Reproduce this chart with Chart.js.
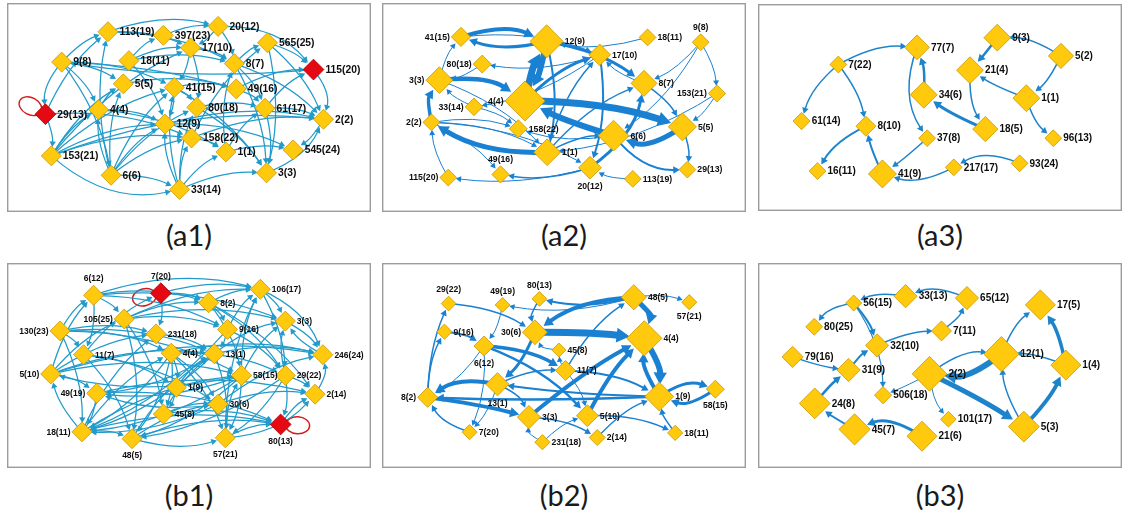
<!DOCTYPE html>
<html><head><meta charset="utf-8">
<script src="https://cdn.jsdelivr.net/npm/chart.js@4.4.1/dist/chart.umd.min.js"></script>
<style>
html,body{margin:0;padding:0;background:#fff}
body{width:1125px;height:510px;position:relative;overflow:hidden}
canvas{position:absolute}
.cap{position:absolute;width:160px;height:34px;line-height:34px;text-align:center;font-family:Lato,"Open Sans",sans-serif;font-size:29px;color:#1a1a1a}
</style></head><body>
<canvas id="a1"></canvas><canvas id="a2"></canvas><canvas id="a3"></canvas>
<canvas id="b1"></canvas><canvas id="b2"></canvas><canvas id="b3"></canvas>
<div class="cap" style="left:109px;top:218px">(a1)</div>
<div class="cap" style="left:484px;top:218px">(a2)</div>
<div class="cap" style="left:860px;top:218px">(a3)</div>
<div class="cap" style="left:109px;top:478px">(b1)</div>
<div class="cap" style="left:484px;top:478px">(b2)</div>
<div class="cap" style="left:860px;top:478px">(b3)</div>
<script>
// ---------------- DATA ----------------
// node names, layout coordinates (layout units) and node weights
const namesA1 = ['113(19)','397(23)','20(12)','565(25)','115(20)','9(8)','18(11)','17(10)','8(7)','5(5)','41(15)','49(16)','29(13)','4(4)','80(18)','61(17)','2(2)','12(9)','158(22)','1(1)','545(24)','153(21)','6(6)','3(3)','33(14)'];
const layoutXA1 = [308,485,660,818,965,160,375,572,712,357,520,718,108,278,592,810,997,490,575,685,900,127,318,815,537];
const layoutYA1 = [68,80,50,105,195,170,165,122,175,243,255,260,345,330,322,325,362,378,425,472,465,485,550,542,598];
const weightA1 = [5,5,5,5,5.2,5,5,5,5,5,5,5,5.2,5,5,5,5,5,5,5,5,5,5,5,5];
const linksA1 = [
['113(19)','20(12)'],['397(23)','20(12)'],['20(12)','115(20)'],['565(25)','115(20)'],
['9(8)','113(19)'],['9(8)','29(13)'],['29(13)','29(13)'],['29(13)','153(21)'],['29(13)','113(19)'],
['153(21)','33(14)'],['6(6)','33(14)'],['33(14)','3(3)'],['3(3)','2(2)'],['115(20)','2(2)'],
['2(2)','545(24)'],['1(1)','545(24)'],
['153(21)','41(15)'],['153(21)','17(10)'],['153(21)','12(9)'],['153(21)','158(22)'],['153(21)','5(5)'],['153(21)','4(4)'],
['6(6)','41(15)'],['6(6)','158(22)'],['6(6)','5(5)'],['6(6)','12(9)'],['6(6)','80(18)'],['6(6)','113(19)'],['6(6)','4(4)'],
['33(14)','158(22)'],['33(14)','12(9)'],['33(14)','80(18)'],['33(14)','1(1)'],['33(14)','41(15)'],
['9(8)','5(5)'],['9(8)','41(15)'],['9(8)','49(16)'],['9(8)','6(6)'],['9(8)','4(4)'],
['18(11)','17(10)'],['18(11)','397(23)'],['18(11)','8(7)'],['18(11)','12(9)'],
['113(19)','17(10)'],['113(19)','8(7)'],['17(10)','8(7)'],['17(10)','80(18)'],['17(10)','41(15)'],
['8(7)','565(25)'],['8(7)','61(17)'],['8(7)','2(2)'],['8(7)','3(3)'],
['41(15)','49(16)'],['41(15)','12(9)'],['41(15)','80(18)'],['41(15)','3(3)'],
['49(16)','61(17)'],['49(16)','115(20)'],['61(17)','115(20)'],['61(17)','3(3)'],['61(17)','2(2)'],
['80(18)','61(17)'],['80(18)','3(3)'],['12(9)','2(2)'],['12(9)','545(24)'],
['158(22)','2(2)'],['158(22)','565(25)'],['158(22)','1(1)'],['1(1)','61(17)'],['1(1)','8(7)'],
['4(4)','12(9)'],['4(4)','1(1)'],['4(4)','5(5)'],['5(5)','49(16)'],
['565(25)','2(2)'],['565(25)','3(3)'],['20(12)','8(7)'],['20(12)','17(10)'],['29(13)','158(22)'],['153(21)','2(2)'],['115(20)','9(8)']
];

const namesA2 = ['41(15)','12(9)','18(11)','9(8)','17(10)','80(18)','3(3)','8(7)','4(4)','153(21)','33(14)','2(2)','158(22)','5(5)','6(6)','1(1)','49(16)','20(12)','29(13)','115(20)','113(19)'];
const layoutXA2 = [218,508,850,1030,688,290,145,838,435,1085,262,118,412,968,735,510,352,655,985,175,800];
const layoutYA2 = [58,75,60,78,125,160,220,232,298,270,320,378,402,395,428,490,573,548,555,585,590];
const weightA2 = [4.8,8.3,4.2,4.2,5.4,4.5,6.7,6.5,10,4.3,4.4,4.2,4.5,7,7.7,6.7,4.3,5.7,4.2,4.2,4.2];
const linksA2 = [
['41(15)','12(9)',4],['12(9)','41(15)',3],['4(4)','12(9)',7],['12(9)','4(4)',6],
['3(3)','4(4)',4.5],['4(4)','5(5)',7],['6(6)','4(4)',6],['5(5)','6(6)',5],
['1(1)','2(2)',5],['2(2)','3(3)',3.5],['12(9)','8(7)',3],['4(4)','17(10)',3],['20(12)','8(7)',3],['17(10)','20(12)',2],
['12(9)','1(1)',2],['6(6)','29(13)',2],['5(5)','29(13)',1.5],['1(1)','8(7)',1.5],['1(1)','17(10)',1.5],
['18(11)','12(9)',1],['17(10)','80(18)',1],['9(8)','8(7)',1],['9(8)','153(21)',1],['153(21)','5(5)',1],['9(8)','6(6)',1],
['8(7)','17(10)',1],['8(7)','5(5)',1.5],['2(2)','158(22)',1],['2(2)','1(1)',1],['2(2)','20(12)',1],['33(14)','158(22)',1],
['33(14)','3(3)',1],['17(10)','33(14)',1],['115(20)','2(2)',1],['20(12)','115(20)',1],['20(12)','49(16)',1.5],['2(2)','49(16)',1],
['113(19)','20(12)',1],['6(6)','158(22)',1],['3(3)','1(1)',1],['3(3)','41(15)',1],['80(18)','3(3)',1],['41(15)','17(10)',1],
['153(21)','1(1)',1],['1(1)','6(6)',1.5]
];

const namesA3 = ['77(7)','9(3)','5(2)','7(22)','21(4)','34(6)','1(1)','61(14)','8(10)','18(5)','37(8)','96(13)','93(24)','217(17)','16(11)','41(9)'];
const layoutXA3 = [495,757,965,238,668,517,852,118,328,718,528,940,830,615,170,382];
const layoutYA3 = [112,78,142,172,192,278,290,370,388,398,430,430,518,532,545,555];
const weightA3 = [6.2,6.7,6.3,4.2,6.7,6.7,6.7,4.3,5,6.3,4.2,4.2,4.2,4.2,4.2,7];
const linksA3 = [
['7(22)','77(7)',1.5],['7(22)','61(14)',1.5],['7(22)','8(10)',1.5],['8(10)','16(11)',2],['41(9)','8(10)',2],
['37(8)','41(9)',1.5],['77(7)','37(8)',1.5],['34(6)','77(7)',2.5],['18(5)','34(6)',3],['21(4)','18(5)',1.5],
['9(3)','21(4)',2.5],['5(2)','9(3)',1.5],['5(2)','1(1)',1.5],['1(1)','21(4)',1.5],['1(1)','96(13)',1.5],
['93(24)','217(17)',1.5],['217(17)','41(9)',1.5]
];

const namesB1 = ['6(12)','7(20)','106(17)','8(2)','105(25)','3(3)','130(23)','9(16)','231(18)','11(7)','4(4)','13(1)','246(24)','5(10)','58(15)','29(22)','1(9)','49(19)','2(14)','30(6)','45(8)','80(13)','18(11)','48(5)','57(21)'];
const layoutXB1 = [262,477,795,630,360,875,155,690,462,230,510,648,995,125,735,875,527,272,970,660,485,860,225,385,683];
const layoutYB1 = [95,88,75,120,175,182,215,210,225,295,290,292,295,360,365,365,405,425,428,462,495,530,555,578,575];
const weightB1 = [5,5.2,5,5,5,5,5,5,5,5,5,5,5,5,5,5,5,5,5,5,5,5.2,5,5,5];
const linksB1 = [
['7(20)','7(20)'],['80(13)','80(13)'],
['6(12)','106(17)'],['7(20)','106(17)'],['7(20)','8(2)'],['8(2)','106(17)'],['106(17)','3(3)'],['3(3)','246(24)'],['106(17)','246(24)'],['106(17)','29(22)'],
['2(14)','246(24)'],['80(13)','2(14)'],['29(22)','80(13)'],['29(22)','2(14)'],['246(24)','3(3)'],
['6(12)','9(16)'],['6(12)','3(3)'],['6(12)','11(7)'],['130(23)','6(12)'],['5(10)','6(12)'],['6(12)','8(2)'],
['130(23)','231(18)'],['130(23)','13(1)'],['130(23)','4(4)'],['130(23)','58(15)'],['130(23)','11(7)'],['130(23)','18(11)'],
['105(25)','8(2)'],['105(25)','106(17)'],['105(25)','3(3)'],['105(25)','45(8)'],['105(25)','48(5)'],['105(25)','9(16)'],
['11(7)','7(20)'],['11(7)','1(9)'],['11(7)','48(5)'],['11(7)','30(6)'],
['5(10)','231(18)'],['5(10)','13(1)'],['5(10)','58(15)'],['5(10)','49(19)'],['5(10)','246(24)'],['5(10)','105(25)'],
['4(4)','1(9)'],['4(4)','45(8)'],['4(4)','48(5)'],['4(4)','57(21)'],['4(4)','18(11)'],['4(4)','30(6)'],['4(4)','29(22)'],['4(4)','246(24)'],
['13(1)','246(24)'],['13(1)','3(3)'],['13(1)','57(21)'],['13(1)','18(11)'],['13(1)','49(19)'],
['9(16)','106(17)'],['9(16)','29(22)'],['9(16)','13(1)'],['9(16)','18(11)'],
['8(2)','9(16)'],['8(2)','58(15)'],['8(2)','2(14)'],['8(2)','29(22)'],
['58(15)','49(19)'],['58(15)','5(10)'],['58(15)','18(11)'],['58(15)','48(5)'],['58(15)','3(3)'],['58(15)','106(17)'],['58(15)','57(21)'],
['29(22)','57(21)'],['29(22)','48(5)'],['29(22)','3(3)'],['1(9)','13(1)'],['1(9)','45(8)'],
['49(19)','18(11)'],['49(19)','2(14)'],['49(19)','80(13)'],
['30(6)','18(11)'],['30(6)','246(24)'],['30(6)','49(19)'],['30(6)','2(14)'],
['45(8)','80(13)'],['45(8)','30(6)'],['45(8)','13(1)'],
['18(11)','48(5)'],['18(11)','80(13)'],['18(11)','58(15)'],['18(11)','4(4)'],['18(11)','5(10)'],['18(11)','231(18)'],
['48(5)','57(21)'],['48(5)','30(6)'],['48(5)','80(13)'],['48(5)','13(1)'],
['57(21)','80(13)'],['57(21)','2(14)'],['57(21)','58(15)'],['57(21)','106(17)'],
['231(18)','13(1)'],['6(12)','105(25)'],['7(20)','231(18)']
];

const namesB2 = ['29(22)','49(19)','80(13)','48(5)','57(21)','9(16)','30(6)','4(4)','6(12)','45(8)','11(7)','13(1)','8(2)','1(9)','58(15)','3(3)','5(10)','7(20)','18(11)','2(14)','231(18)'];
const layoutXB2 = [182,362,485,800,985,168,470,835,300,550,572,345,112,885,1072,450,645,252,938,678,495];
const layoutYB2 = [105,110,88,82,100,208,210,232,260,275,350,400,448,445,418,520,515,575,578,595,612];
const weightB2 = [3.7,3.7,3.7,6.3,3.8,3.8,6.2,8.8,5,3.5,5,5.8,5,7.2,4.5,5.8,5.5,3.8,3.8,4,3.8];
const linksB2 = [
['30(6)','4(4)',7],['48(5)','4(4)',5],['48(5)','30(6)',4],['4(4)','1(9)',6],['1(9)','4(4)',4],
['3(3)','4(4)',4],['5(10)','4(4)',4],['8(2)','3(3)',4],['13(1)','8(2)',4],['6(12)','11(7)',3.5],['6(12)','5(10)',2.5],
['30(6)','13(1)',3],['1(9)','58(15)',3],['58(15)','1(9)',3],['1(9)','8(2)',2.5],['1(9)','13(1)',2],['11(7)','1(9)',2],
['18(11)','1(9)',1.5],['2(14)','1(9)',1.5],['3(3)','2(14)',1.5],['5(10)','18(11)',1.5],['9(16)','6(12)',2],
['8(2)','29(22)',1.5],['8(2)','9(16)',1.5],['7(20)','8(2)',1.5],['29(22)','30(6)',1.5],['48(5)','49(19)',1],['48(5)','57(21)',1],
['48(5)','80(13)',2],['80(13)','30(6)',1.5],['49(19)','6(12)',1],['6(12)','8(2)',1],['6(12)','7(20)',1],['13(1)','7(20)',1],
['11(7)','48(5)',1.5],['11(7)','5(10)',1],['13(1)','11(7)',1.5],['45(8)','30(6)',1],['11(7)','45(8)',1],
['231(18)','3(3)',1],['231(18)','5(10)',1],['13(1)','3(3)',1.5]
];

const namesB3 = ['33(13)','65(12)','56(15)','17(5)','80(25)','7(11)','32(10)','12(1)','79(16)','1(4)','31(9)','2(2)','506(18)','24(8)','101(17)','45(7)','5(3)','21(6)'];
const layoutXB3 = [455,660,282,905,150,575,360,775,78,990,265,535,380,152,598,285,850,510];
const layoutYB3 = [78,85,103,110,190,205,258,290,300,330,348,362,440,470,528,565,555,590];
const weightB3 = [5.8,5.8,4,7.5,4.2,5,5.8,8.8,5.3,7.5,5.8,8.7,4.3,7.7,3.9,7.8,7.7,7.5];
const linksB3 = [
['65(12)','33(13)',1.5],['33(13)','56(15)',1.5],['56(15)','80(25)',1.5],['56(15)','32(10)',2],['56(15)','506(18)',1.2],
['7(11)','65(12)',1.5],['32(10)','7(11)',1.5],['79(16)','31(9)',1.5],['31(9)','32(10)',2],['24(8)','31(9)',2.5],
['45(7)','24(8)',2],['21(6)','45(7)',3],['2(2)','12(1)',1.5],['12(1)','2(2)',6],['2(2)','5(3)',5],['5(3)','1(4)',4],
['1(4)','17(5)',3.5],['1(4)','12(1)',1.5],['5(3)','12(1)',1.5],['12(1)','17(5)',1.5],['2(2)','506(18)',1],['2(2)','101(17)',1]
];

// ---------------- STYLE ----------------
const GOLD = '#ffc90e', GOLD_EDGE = '#c99700', RED = '#e50914', RED_EDGE = '#a80000';
const labelFont = px => 'bold ' + px + 'px "Liberation Sans", Arial, sans-serif';
const radiusOf = w => w * 2;

const PANELS = [
 {id:'a1', box:[7,3,371,212], crop:[0,0], names:namesA1, X:layoutXA1, Y:layoutYA1, W:weightA1, links:linksA1,
  red:['29(13)','115(20)'], color:'#229bcb', baseWidth:1.25, bend:0.12, fontPx:10.3,
  bends:{'153(21)>33(14)':-0.25,'3(3)>2(2)':-0.2,'9(8)>29(13)':-0.2,'113(19)>20(12)':0.15,'20(12)>115(20)':0.25,'115(20)>2(2)':0.25,'9(8)>49(16)':0.06,'115(20)>9(8)':0.06},
  loops:{'29(13)':[-0.88,-0.47],'115(20)':[0.34,0.94]}, sides:{}},
 {id:'a2', box:[382,3,746,212], crop:[375,0], names:namesA2, X:layoutXA2, Y:layoutYA2, W:weightA2, links:linksA2,
  red:[], color:'#1a80d2', baseWidth:1, bend:0.12, fontPx:8.7,
  bends:{'41(15)>12(9)':0.18,'12(9)>41(15)':0.15,'4(4)>12(9)':0.07,'12(9)>4(4)':0.07,'3(3)>4(4)':0.18,'4(4)>5(5)':0.08,'6(6)>4(4)':0.04,'5(5)>6(6)':0.25,'1(1)>2(2)':0.15,'2(2)>3(3)':0.2,'20(12)>8(7)':-0.2,'6(6)>29(13)':-0.25,'20(12)>115(20)':0.1},
  loops:{}, sides:{'41(15)':'l','80(18)':'l','3(3)':'l','4(4)':'l','33(14)':'l','2(2)':'l','115(20)':'l','153(21)':'l','9(8)':'a','49(16)':'a','20(12)':'b'}},
 {id:'a3', box:[758,4,1122,211], crop:[750,0], names:namesA3, X:layoutXA3, Y:layoutYA3, W:weightA3, links:linksA3,
  red:[], color:'#1d84cb', baseWidth:1.5, bend:0.1, fontPx:10,
  bends:{'7(22)>77(7)':0.15,'7(22)>61(14)':-0.15,'7(22)>8(10)':0.12,'8(10)>16(11)':-0.15,'41(9)>8(10)':0.05,'37(8)>41(9)':0.03,'77(7)>37(8)':-0.25,'34(6)>77(7)':-0.1,'18(5)>34(6)':0.05,'21(4)>18(5)':-0.15,'9(3)>21(4)':0.02,'5(2)>9(3)':-0.15,'5(2)>1(1)':0.12,'1(1)>21(4)':0.05,'1(1)>96(13)':-0.15,'93(24)>217(17)':-0.25,'217(17)>41(9)':0.2},
  loops:{}, sides:{}},
 {id:'b1', box:[7,263,371,468], crop:[0,255], names:namesB1, X:layoutXB1, Y:layoutYB1, W:weightB1, links:linksB1,
  red:['7(20)','80(13)'], color:'#229bcb', baseWidth:1.25, bend:0.12, fontPx:8.5,
  bends:{'2(14)>246(24)':-0.2,'48(5)>57(21)':-0.15,'57(21)>2(14)':-0.2,'106(17)>246(24)':0.2,'6(12)>106(17)':0.15},
  loops:{'7(20)':[-0.97,0.24],'80(13)':[1,0.05]},
  sides:{'6(12)':'a','7(20)':'a','80(13)':'b','48(5)':'b','57(21)':'b','105(25)':'l','130(23)':'l','5(10)':'l','49(19)':'l','18(11)':'l'}},
 {id:'b2', box:[382,263,746,468], crop:[375,255], names:namesB2, X:layoutXB2, Y:layoutYB2, W:weightB2, links:linksB2,
  red:[], color:'#1a80d2', baseWidth:1, bend:0.12, fontPx:8.6,
  bends:{'30(6)>4(4)':0.03,'48(5)>4(4)':0.3,'48(5)>30(6)':-0.15,'4(4)>1(9)':0.15,'1(9)>4(4)':0.15,'3(3)>4(4)':0.05,'5(10)>4(4)':0.08,'8(2)>3(3)':0.03,'13(1)>8(2)':-0.2,'1(9)>58(15)':0.25,'58(15)>1(9)':0.25,'1(9)>8(2)':0.02,'1(9)>13(1)':0.03,'8(2)>29(22)':0.1,'7(20)>8(2)':0.2,'80(13)>30(6)':-0.2,'45(8)>30(6)':0.3,'231(18)>3(3)':0.3,'13(1)>3(3)':0.2},
  loops:{}, sides:{'29(22)':'a','49(19)':'a','80(13)':'a','57(21)':'b','6(12)':'b','13(1)':'b','58(15)':'b','30(6)':'l','8(2)':'l'}},
 {id:'b3', box:[758,263,1122,468], crop:[750,255], names:namesB3, X:layoutXB3, Y:layoutYB3, W:weightB3, links:linksB3,
  red:[], color:'#1d84cb', baseWidth:1.5, bend:0.1, fontPx:10,
  bends:{'65(12)>33(13)':-0.2,'33(13)>56(15)':-0.15,'56(15)>80(25)':-0.2,'7(11)>65(12)':-0.15,'32(10)>7(11)':0.1,'79(16)>31(9)':-0.05,'24(8)>31(9)':0.05,'45(7)>24(8)':0.03,'21(6)>45(7)':-0.25,'2(2)>12(1)':0.2,'12(1)>2(2)':0.2,'2(2)>5(3)':0.03,'5(3)>1(4)':-0.08,'1(4)>17(5)':-0.1,'1(4)>12(1)':-0.1,'5(3)>12(1)':0.12,'12(1)>17(5)':0.15,'56(15)>506(18)':0.15,'2(2)>101(17)':-0.15,'2(2)>506(18)':0.03},
  loops:{}, sides:{}}
];

// ---------------- DRAWING ----------------
function framePlugin(){
  return {id:'frame', beforeDraw(chart){
    const c = chart.ctx; c.save(); c.strokeStyle = '#9c9c9c'; c.lineWidth = 1.4;
    c.strokeRect(0.7, 0.7, chart.width - 1.4, chart.height - 1.4); c.restore();
  }};
}

function edgePlugin(P){
  const idx = {}; P.names.forEach((n,i) => idx[n] = i);
  return {id:'edges', beforeDatasetsDraw(chart){
    const c = chart.ctx, meta = chart.getDatasetMeta(0);
    c.save(); c.lineCap = 'butt'; c.lineJoin = 'round';
    P.links.forEach(l => {
      const a = idx[l[0]], b = idx[l[1]];
      const pa = meta.data[a], pb = meta.data[b];
      const rb = radiusOf(P.W[b]);
      if (a === b) {
        const d = P.loops[l[0]] || [1,0]; const dl = Math.hypot(d[0],d[1]);
        const ux = d[0]/dl, uy = d[1]/dl, ax = 12, ay = 8.5, dist = rb + ax*0.55;
        c.strokeStyle = '#d41a1a'; c.lineWidth = 1.4;
        c.beginPath(); c.ellipse(pa.x + ux*dist, pa.y + uy*dist, ax, ay, Math.atan2(uy,ux), 0, Math.PI*2); c.stroke();
        return;
      }
      const w = l[2] || P.baseWidth;
      const key = l[0] + '>' + l[1];
      const bend = (key in P.bends) ? P.bends[key] : P.bend;
      const dx = pb.x - pa.x, dy = pb.y - pa.y;
      const cx = (pa.x + pb.x)/2 + bend*dy, cy = (pa.y + pb.y)/2 - bend*dx;
      let ux = pb.x - cx, uy = pb.y - cy; const ul = Math.hypot(ux,uy) || 1; ux /= ul; uy /= ul;
      const off = rb*0.78 + 1;
      const tx = pb.x - ux*off, ty = pb.y - uy*off;
      const L = 4 + w*1.3, H = 2.2 + w*0.75;
      const bx = tx - ux*L, by = ty - uy*L;
      c.strokeStyle = P.color; c.fillStyle = P.color; c.lineWidth = w;
      c.beginPath(); c.moveTo(pa.x, pa.y); c.quadraticCurveTo(cx, cy, bx + ux, by + uy); c.stroke();
      c.beginPath(); c.moveTo(tx, ty); c.lineTo(bx - uy*H, by + ux*H); c.lineTo(bx + uy*H, by - ux*H); c.closePath(); c.fill();
    });
    c.restore();
  }};
}

function labelPlugin(P){
  return {id:'labels', afterDatasetsDraw(chart){
    const c = chart.ctx, meta = chart.getDatasetMeta(0);
    c.save(); c.font = labelFont(P.fontPx); c.fillStyle = '#0d0d0d';
    P.names.forEach((n,i) => {
      const p = meta.data[i], r = radiusOf(P.W[i]), s = P.sides[n] || 'r';
      if (s === 'r') { c.textAlign = 'left'; c.textBaseline = 'middle'; c.fillText(n, p.x + r + 1.5, p.y + 0.5); }
      else if (s === 'l') { c.textAlign = 'right'; c.textBaseline = 'middle'; c.fillText(n, p.x - r - 1.5, p.y + 0.5); }
      else if (s === 'a') { c.textAlign = 'center'; c.textBaseline = 'bottom'; c.fillText(n, p.x, p.y - r - 2); }
      else { c.textAlign = 'center'; c.textBaseline = 'top'; c.fillText(n, p.x, p.y + r + 3); }
    });
    c.restore();
  }};
}

PANELS.forEach(P => {
  const cv = document.getElementById(P.id);
  const [l,t,r,b] = P.box;
  cv.style.left = l + 'px'; cv.style.top = t + 'px';
  cv.width = r - l; cv.height = b - t;
  cv.style.width = (r - l) + 'px'; cv.style.height = (b - t) + 'px';
  const isRed = n => P.red.includes(n);
  new Chart(cv, {
    type: 'scatter',
    data: { datasets: [{
      data: P.names.map((n,i) => ({x: P.X[i], y: P.Y[i]})),
      pointStyle: 'rectRot',
      pointRadius: P.W.map(radiusOf),
      pointHoverRadius: P.W.map(radiusOf),
      backgroundColor: P.names.map(n => isRed(n) ? RED : GOLD),
      borderColor: P.names.map(n => isRed(n) ? RED_EDGE : GOLD_EDGE),
      borderWidth: 0.8,
      clip: false
    }]},
    options: {
      responsive: false, animation: false, events: [],
      layout: { padding: 0 },
      plugins: { legend: {display:false}, tooltip: {enabled:false}, title: {display:false} },
      scales: {
        x: { type:'linear', display:false, min:(l - P.crop[0])*3, max:(r - P.crop[0])*3 },
        y: { type:'linear', display:false, reverse:true, min:(t - P.crop[1])*3, max:(b - P.crop[1])*3 }
      }
    },
    plugins: [framePlugin(), edgePlugin(P), labelPlugin(P)]
  });
});
</script>
</body></html>
